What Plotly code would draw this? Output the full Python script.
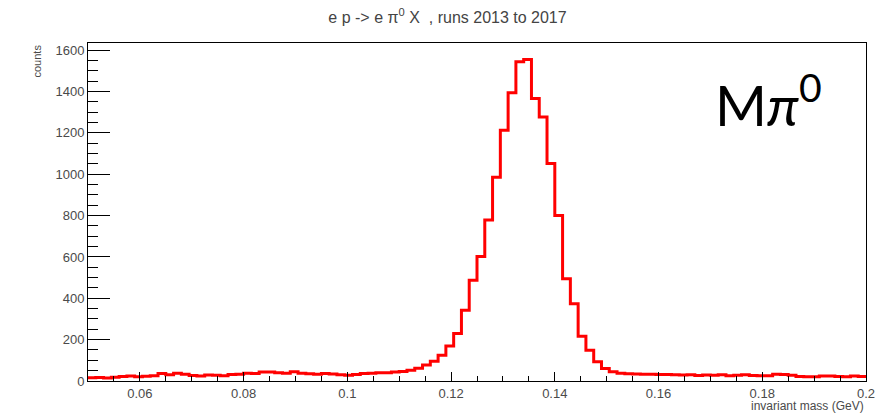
import numpy as np
import plotly.graph_objects as go

# Histogram definition: 100 bins from 0.05 to 0.2 GeV
x_min = 0.05
x_max = 0.2
n_bins = 100

counts = [
    16, 17, 15, 18, 22, 24, 21, 23, 25, 36,
    30, 37, 33, 27, 24, 29, 28, 25, 31, 33,
    38, 36, 43, 44, 40, 38, 45, 37, 35, 33,
    36, 34, 30, 28, 31, 36, 38, 40, 40, 43,
    46, 52, 62, 77, 95, 125, 169, 230, 342, 487,
    602, 779, 985, 1213, 1394, 1544, 1555, 1367, 1277, 1052,
    800, 495, 374, 217, 149, 93, 61, 45, 38, 35,
    34, 33, 33, 31, 32, 30, 29, 30, 27, 29,
    28, 30, 26, 28, 30, 27, 26, 25, 33, 31,
    28, 22, 20, 21, 24, 24, 22, 21, 24, 22,
]

title_text = "e p -> e π<sup>0</sup> X  , runs 2013 to 2017"
x_title = "invariant mass (GeV)"
y_title = "counts"
label_text = "M<i>π</i><sup>0</sup>"

edges = np.linspace(x_min, x_max, n_bins + 1)
xs = list(edges)
ys = list(counts) + [counts[-1]]

fig = go.Figure()
fig.add_trace(go.Scatter(
    x=xs, y=ys, mode="lines", line_shape="hv",
    line=dict(color="#ff0000", width=3),
    showlegend=False, hoverinfo="skip",
))

tick_font = dict(family="Liberation Sans, Arial, sans-serif", size=13, color="#4a4a4a")

fig.update_layout(
    width=895, height=415,
    margin=dict(l=88, r=29, t=43, b=34),
    paper_bgcolor="white", plot_bgcolor="white",
    title=dict(text=title_text, x=0.5, xref="container", xanchor="center",
               y=1 - 17 / 415, yref="container", yanchor="middle",
               font=dict(family="Liberation Sans, Arial, sans-serif", size=16, color="#444")),
    xaxis=dict(
        range=[x_min, x_max], tick0=0, dtick=0.02,
        ticks="inside", ticklen=9, tickwidth=1, tickcolor="black",
        showline=True, linecolor="black", linewidth=1, mirror=True,
        showgrid=False, zeroline=False, tickfont=tick_font,
        minor=dict(dtick=0.005, tick0=0, ticks="inside", ticklen=5, tickcolor="black", showgrid=False),
    ),
    yaxis=dict(
        range=[0, 1635], tick0=0, dtick=200,
        ticks="inside", ticklen=22, tickwidth=1, tickcolor="black",
        showline=True, linecolor="black", linewidth=1, mirror=True,
        showgrid=False, zeroline=False, tickfont=tick_font,
        minor=dict(dtick=50, tick0=0, ticks="inside", ticklen=10, tickcolor="black", showgrid=False),
    ),
    annotations=[
        dict(text=y_title, textangle=-90, xref="paper", yref="paper",
             x=(36 - 88) / 778, y=1.0, xanchor="center", yanchor="top",
             showarrow=False,
             font=dict(family="Liberation Sans, Arial, sans-serif", size=11, color="#4a4a4a")),
        dict(text=x_title, xref="paper", yref="paper",
             x=1.0, y=-(406 - 381) / 338, xanchor="right", yanchor="middle",
             showarrow=False,
             font=dict(family="Liberation Sans, Arial, sans-serif", size=12, color="#4a4a4a")),
        dict(text=label_text, xref="paper", yref="paper",
             x=(768 - 88) / 778, y=1 - (100 - 43) / 338, xanchor="center", yanchor="middle",
             showarrow=False,
             font=dict(family="Lato, sans-serif", size=56, color="black")),
    ],
)

fig.write_html("out.html")
